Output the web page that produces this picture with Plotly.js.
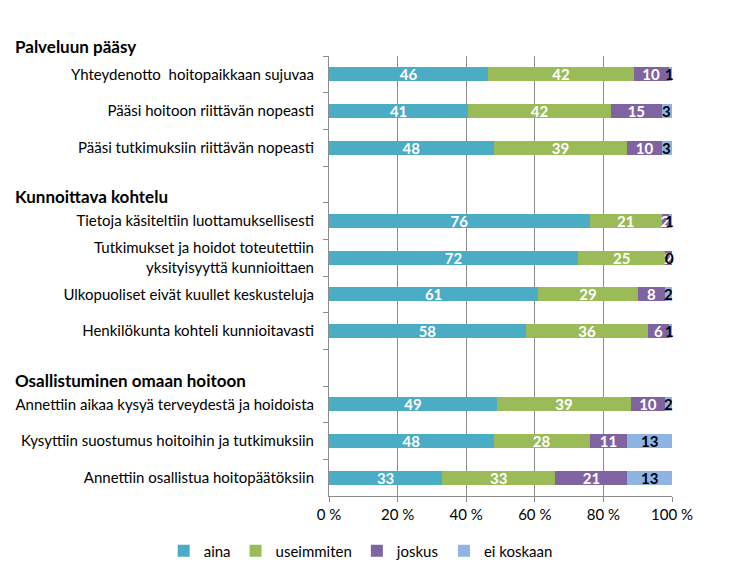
<!DOCTYPE html>
<html>
<head>
<meta charset="utf-8">
<script src="https://cdn.plot.ly/plotly-3.0.1.min.js"></script>
<style>html,body{margin:0;padding:0;background:#fff;}#chart{width:730px;height:581px;}</style>
</head>
<body>
<div id="chart"></div>
<script>
// Categories (top to bottom); blank rows separate the groups
const categories = [
  "Yhteydenotto  hoitopaikkaan sujuvaa",
  "Pääsi hoitoon riittävän nopeasti",
  "Pääsi tutkimuksiin riittävän nopeasti",
  " ",
  "Tietoja käsiteltiin luottamuksellisesti",
  "Tutkimukset ja hoidot toteutettiin<br>yksityisyyttä kunnioittaen",
  "Ulkopuoliset eivät kuullet keskusteluja",
  "Henkilökunta kohteli kunnioitavasti",
  "  ",
  "Annettiin aikaa kysyä terveydestä ja hoidoista",
  "Kysyttiin suostumus hoitoihin ja tutkimuksiin",
  "Annettiin osallistua hoitopäätöksiin"
];
const seriesNames = ["aina", "useimmiten", "joskus", "ei koskaan"];
const aina       = [46, 41, 48, null, 76, 72, 61, 58, null, 49, 48, 33];
const useimmiten = [42, 42, 39, null, 21, 25, 29, 36, null, 39, 28, 33];
const joskus     = [10, 15, 10, null,  2,  2,  8,  6, null, 10, 11, 21];
const eiKoskaan  = [ 1,  3,  3, null,  1,  0,  2,  1, null,  2, 13, 13];
const groupHeadings = ["Palveluun pääsy", "Kunnoittava kohtelu", "Osallistuminen omaan hoitoon"];
const headingPositions = [1.0205, 0.6818, 0.2636];   // paper y
const xTicks = [0, 20, 40, 60, 80, 100];

const colors = ["#4BACC6", "#9BBB59", "#8064A2", "#8EB4E3"];
const FONT = "Lato, 'Open Sans', sans-serif";

const values = [aina, useimmiten, joskus, eiKoskaan];
const traces = values.map((v, i) => ({
  type: "bar",
  orientation: "h",
  name: seriesNames[i],
  y: categories,
  x: v,
  text: v.map(d => d === null ? "" : String(d)),
  texttemplate: "%{text}",
  textposition: i < 3 ? "inside" : "none",
  insidetextanchor: "middle",
  textangle: 0,
  constraintext: "none",
  textfont: {family: FONT, size: 15, color: "#FFFFFF", weight: "bold"},
  marker: {color: colors[i], line: {width: 0}},
  hoverinfo: "skip"
}));

const annotations = groupHeadings.map((h, i) => ({
  text: "<b>" + h + "</b>",
  xref: "paper", yref: "paper",
  x: -316 / 343, y: headingPositions[i],
  xanchor: "left", yanchor: "middle",
  showarrow: false,
  font: {family: FONT, size: 17, color: "#000"}
}));

// labels of the last series (black), placed at the centre of its normalised segment
categories.forEach((c, k) => {
  if (eiKoskaan[k] === null) return;
  const total = aina[k] + useimmiten[k] + joskus[k] + eiKoskaan[k];
  const start = aina[k] + useimmiten[k] + joskus[k];
  annotations.push({
    text: "<b>" + eiKoskaan[k] + "</b>",
    xref: "x", yref: "y",
    x: Math.min(100 * (start + eiKoskaan[k] / 2) / total, 99.2), y: c,
    xanchor: "center", yanchor: "middle",
    showarrow: false,
    font: {family: FONT, size: 15, color: "#000"}
  });
});

const layout = {
  width: 730, height: 581,
  margin: {l: 329, r: 58, t: 56, b: 85, autoexpand: false},
  paper_bgcolor: "#fff", plot_bgcolor: "#fff",
  barmode: "stack",
  barnorm: "percent",
  bargap: 0.62,
  uniformtext: {mode: "show", minsize: 15},
  font: {family: FONT, size: 15, color: "#000"},
  xaxis: {
    range: [0, 100],
    tickvals: xTicks,
    ticktext: xTicks.map(t => t + " %"),
    showgrid: true, gridcolor: "#8C8C8C", gridwidth: 1,
    showline: true, linecolor: "#8C8C8C",
    ticks: "outside", ticklen: 5, tickcolor: "#8C8C8C",
    zeroline: false,
    fixedrange: true,
    tickfont: {family: FONT, size: 15, color: "#000"}
  },
  yaxis: {
    type: "category",
    categoryorder: "array",
    categoryarray: categories,
    range: [11.5, -0.5],
    autorange: false,
    showgrid: false,
    showline: true, linecolor: "#8C8C8C",
    ticks: "outside", tickson: "boundaries", ticklen: 5, tickcolor: "#8C8C8C",
    ticklabelstandoff: 11,
    tickfont: {family: FONT, size: 15, color: "#000"},
    fixedrange: true
  },
  legend: {
    orientation: "h",
    x: -0.482, xanchor: "left",
    y: -0.125, yanchor: "middle",
    font: {family: FONT, size: 15, color: "#000"},
    traceorder: "normal",
    itemwidth: 30
  },
  annotations: annotations,
  showlegend: true
};

Plotly.newPlot("chart", traces, layout, {displayModeBar: false, staticPlot: true});
</script>
</body>
</html>
